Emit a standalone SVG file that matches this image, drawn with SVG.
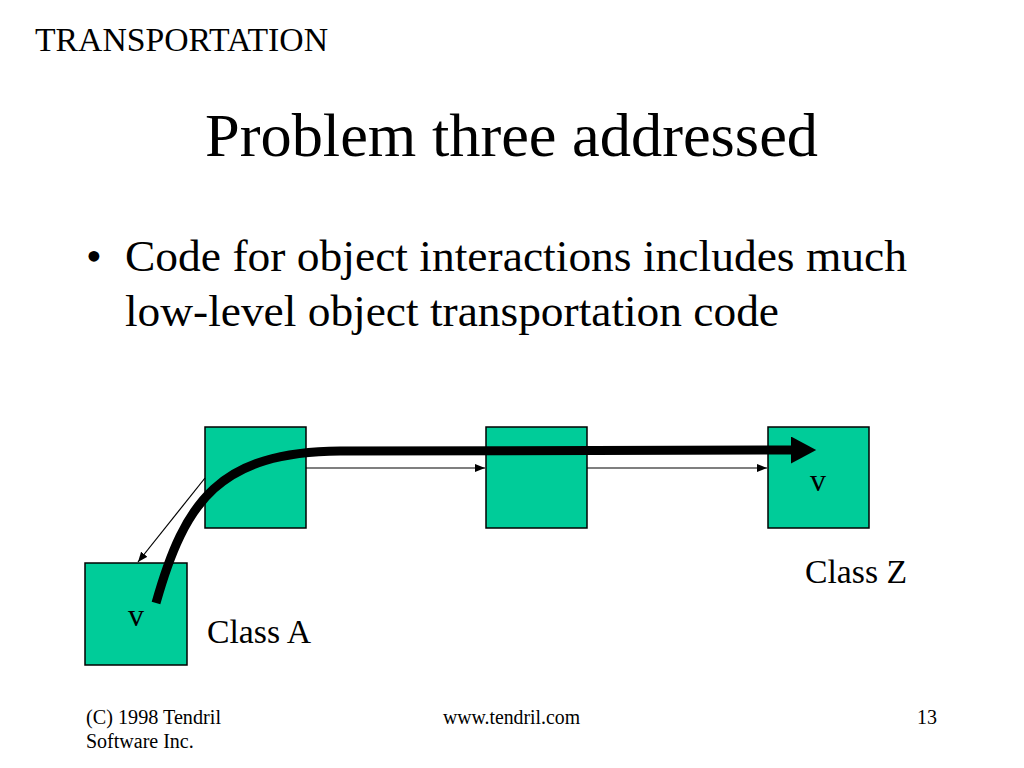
<svg xmlns="http://www.w3.org/2000/svg" width="1024" height="768" viewBox="0 0 1024 768">
<defs>
<style>
text{font-family:"Liberation Serif","Times New Roman",serif;fill:#000}
.box{fill:#00CC99;stroke:#000;stroke-width:1.5}
.thin{fill:none;stroke:#000;stroke-width:1.2}
</style>
<marker id="ah" markerWidth="10" markerHeight="8" refX="10" refY="4" orient="auto" markerUnits="userSpaceOnUse">
<path d="M0,0 L10,4 L0,8 Z" fill="#000"/>
</marker>
<marker id="big" markerWidth="4" markerHeight="3" refX="1" refY="1.5" orient="auto" markerUnits="strokeWidth">
<path d="M0,0 L2.8,1.5 L0,3 Z" fill="#000"/>
</marker>
</defs>
<rect width="1024" height="768" fill="#fff"/>
<text x="35" y="51" font-size="33" textLength="293" lengthAdjust="spacingAndGlyphs">TRANSPORTATION</text>
<text x="205" y="156" font-size="62" textLength="613" lengthAdjust="spacingAndGlyphs">Problem three addressed</text>
<text x="86" y="271" font-size="45">•</text>
<text x="125" y="271" font-size="45" textLength="782" lengthAdjust="spacingAndGlyphs">Code for object interactions includes much</text>
<text x="125" y="326" font-size="45" textLength="654" lengthAdjust="spacingAndGlyphs">low-level object transportation code</text>
<g id="node-b1"><rect class="box" x="205" y="427" width="101" height="101"/></g>
<g id="node-b2"><rect class="box" x="486" y="427" width="101" height="101"/></g>
<g id="node-z"><rect class="box" x="768" y="427" width="101" height="101"/><text x="818" y="491" font-size="32" text-anchor="middle">v</text></g>
<g id="node-a"><rect class="box" x="85" y="563" width="102" height="102"/><text x="136" y="626" font-size="32" text-anchor="middle">v</text></g>
<text x="805" y="583" font-size="34" textLength="102" lengthAdjust="spacingAndGlyphs">Class Z</text>
<text x="207" y="643" font-size="34" textLength="104" lengthAdjust="spacingAndGlyphs">Class A</text>
<g id="connectors">
<line class="thin" x1="306" y1="468" x2="485" y2="468" marker-end="url(#ah)"/>
<line class="thin" x1="587" y1="468" x2="767" y2="468" marker-end="url(#ah)"/>
<line class="thin" x1="205" y1="478" x2="138" y2="562" marker-end="url(#ah)"/>
<path d="M156,603 C185,500 220,452 340,451 L800,450" fill="none" stroke="#000" stroke-width="9" marker-end="url(#big)"/>
</g>
<text x="86" y="724" font-size="20" textLength="135" lengthAdjust="spacingAndGlyphs">(C) 1998 Tendril</text>
<text x="86" y="748" font-size="20">Software Inc.</text>
<text x="443" y="724" font-size="20" textLength="137" lengthAdjust="spacingAndGlyphs">www.tendril.com</text>
<text x="917" y="724" font-size="20">13</text>
</svg>
